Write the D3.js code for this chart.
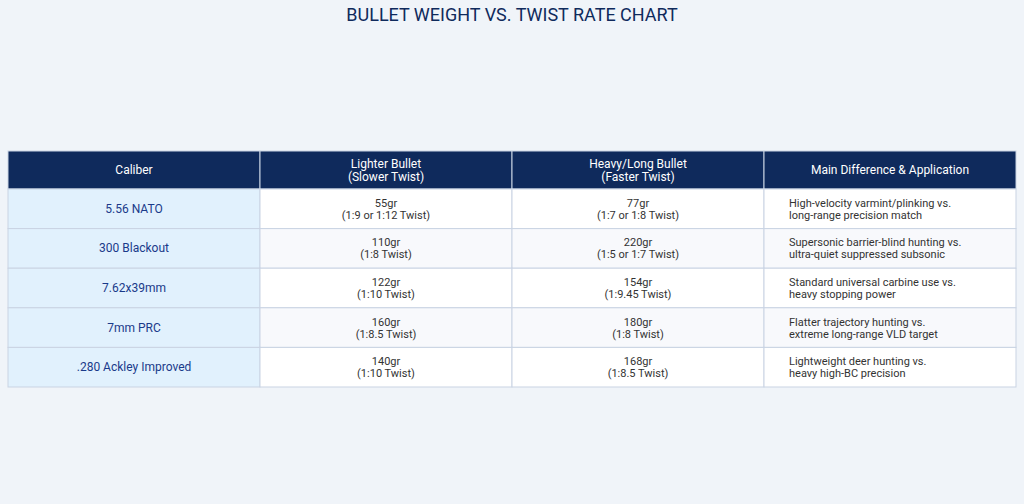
<!DOCTYPE html><html><head><meta charset="utf-8"><script src="https://cdn.jsdelivr.net/npm/d3@7"></script>
<style>body{margin:0;background:#f0f4f9;font-family:Roboto,"Open Sans",sans-serif}</style></head><body><svg id="c" width="1024" height="504"></svg>
<script>
const headers=[["Caliber"],["Lighter Bullet","(Slower Twist)"],["Heavy/Long Bullet","(Faster Twist)"],["Main Difference & Application"]];
const calibers=["5.56 NATO","300 Blackout","7.62x39mm","7mm PRC",".280 Ackley Improved"];
const lighter=[["55gr","(1:9 or 1:12 Twist)"],["110gr","(1:8 Twist)"],["122gr","(1:10 Twist)"],["160gr","(1:8.5 Twist)"],["140gr","(1:10 Twist)"]];
const heavy=[["77gr","(1:7 or 1:8 Twist)"],["220gr","(1:5 or 1:7 Twist)"],["154gr","(1:9.45 Twist)"],["180gr","(1:8 Twist)"],["168gr","(1:8.5 Twist)"]];
const application=[["High-velocity varmint/plinking vs.","long-range precision match"],["Supersonic barrier-blind hunting vs.","ultra-quiet suppressed subsonic"],["Standard universal carbine use vs.","heavy stopping power"],["Flatter trajectory hunting vs.","extreme long-range VLD target"],["Lightweight deer hunting vs.","heavy high-BC precision"]];
const svg=d3.select("#c");
svg.append("text").attr("x",512).attr("y",21).attr("text-anchor","middle").attr("font-size",18).attr("fill","#0f2a5c").text("BULLET WEIGHT VS. TWIST RATE CHART");
const x=d3.scaleBand().domain(d3.range(4)).range([8,1016]);
const y=d3.scaleLinear().domain([0,5]).range([189,387]);
const rh=y(1)-y(0);
// header
headers.forEach((h,i)=>{
 svg.append("rect").attr("x",x(i)).attr("y",151).attr("width",x.bandwidth()).attr("height",38).attr("fill","#0f2a5c").attr("stroke","#c9d3e3");
 h.forEach((t,j)=>svg.append("text").attr("x",x(i)+x.bandwidth()/2).attr("y",170+(j-(h.length-1)/2)*13+4).attr("text-anchor","middle").attr("font-size",12).attr("fill","#fff").text(t));
});
calibers.forEach((c,r)=>{
 const cells=[[c],lighter[r],heavy[r],application[r]];
 cells.forEach((lines,i)=>{
  const bg=i==0?"#e1f1fd":(r%2?"#f8f9fc":"#fff");
  svg.append("rect").attr("x",x(i)).attr("y",y(r)).attr("width",x.bandwidth()).attr("height",rh).attr("fill",bg).attr("stroke","#c9d3e3");
  const cy=y(r)+rh/2;
  lines.forEach((t,j)=>{
   const tx=svg.append("text").attr("y",cy+(j-(lines.length-1)/2)*12+4).attr("font-size",i==0?12:11).attr("fill",i==0?"#1a3a8a":"#333").text(t);
   if(i==3) tx.attr("x",x(i)+25); else tx.attr("x",x(i)+x.bandwidth()/2).attr("text-anchor","middle");
  });
 });
});
</script></body></html>
